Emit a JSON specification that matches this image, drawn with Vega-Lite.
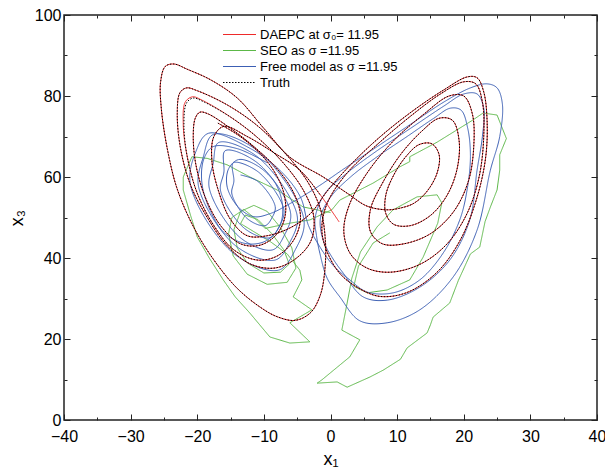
{
  "$schema": "https://vega.github.io/schema/vega-lite/v6.json",
  "width": 533,
  "height": 405,
  "autosize": {"type": "none"},
  "padding": {"left": 64, "top": 15, "right": 8, "bottom": 51},
  "background": "white",
  "config": {"view": {"stroke": "#222222", "strokeWidth": 1.5}},
  "datasets": {
    "pts": [
      {"s":"S","x":0,"y":51.2},{"s":"S","x":-4.1,"y":52.6},{"s":"S","x":-8,"y":56.8},{"s":"S","x":-12.1,"y":60},{"s":"S","x":-15.5,"y":63},{"s":"S","x":-18.5,"y":64.6},{"s":"S","x":-20.8,"y":65},{"s":"S","x":-22.1,"y":60},{"s":"S","x":-22.1,"y":56.8},{"s":"S","x":-21,"y":50.5},{"s":"S","x":-20,"y":45.2},{"s":"S","x":-18.2,"y":40},{"s":"S","x":-16.1,"y":34.6},{"s":"S","x":-14.3,"y":30.4},{"s":"S","x":-12.1,"y":26.4},{"s":"S","x":-9.1,"y":20.5},{"s":"S","x":-6.1,"y":19},{"s":"S","x":-3.1,"y":19.3},{"s":"S","x":-6.1,"y":24},{"s":"S","x":-2.8,"y":27.2},{"s":"S","x":-5.6,"y":30.4},{"s":"S","x":-4.3,"y":34.6},{"s":"S","x":-4.6,"y":37},
      {"s":"S","x":-6.5,"y":41},{"s":"S","x":-9,"y":44},{"s":"S","x":-11.5,"y":46.5},{"s":"S","x":-13.5,"y":48.5},{"s":"S","x":-12.8,"y":50.6},{"s":"S","x":-10.9,"y":49.5},{"s":"S","x":-8.8,"y":46},{"s":"S","x":-7,"y":42},{"s":"S","x":-6.2,"y":38.5},{"s":"S","x":-7.5,"y":36.5},{"s":"S","x":-10,"y":36.3},{"s":"S","x":-12.5,"y":38.8},{"s":"S","x":-14,"y":42.5},{"s":"S","x":-14.5,"y":47},{"s":"S","x":-13.5,"y":51.5},{"s":"S","x":-11.5,"y":53},{"s":"S","x":-9.5,"y":51.5},{"s":"S","x":-7.5,"y":47.5},{"s":"S","x":-5.8,"y":42.5},{"s":"S","x":-5.2,"y":37.5},{"s":"S","x":-6.5,"y":34},{"s":"S","x":-9.5,"y":33.5},{"s":"S","x":-12.5,"y":36},{"s":"S","x":-14.6,"y":40.5},{"s":"S","x":-15.3,"y":46},{"s":"S","x":-14.8,"y":50},{"s":"S","x":-13,"y":52},{"s":"S","x":-11.5,"y":50},{"s":"S","x":-9.8,"y":47.3},{"s":"S","x":-6.1,"y":48.6},{"s":"S","x":-3.1,"y":49.4},{"s":"S","x":0.2,"y":51.9},{"s":"S","x":1.4,"y":54.3},{"s":"S","x":6.4,"y":58.5},{"s":"S","x":10.4,"y":62.5},{"s":"S","x":11.9,"y":63.8},{"s":"S","x":11.9,"y":65},{"s":"S","x":16,"y":68.6},{"s":"S","x":21.4,"y":74.1},{"s":"S","x":22.9,"y":75.8},{"s":"S","x":25,"y":75.3},{"s":"S","x":26.4,"y":69.5},{"s":"S","x":25.4,"y":65.5},{"s":"S","x":25.4,"y":61.7},{"s":"S","x":25,"y":56.8},{"s":"S","x":24,"y":52.6},{"s":"S","x":23.2,"y":49},{"s":"S","x":22.4,"y":42.7},{"s":"S","x":21,"y":41},{"s":"S","x":19.9,"y":37},{"s":"S","x":19.2,"y":34.5},{"s":"S","x":17.9,"y":28.9},{"s":"S","x":15.4,"y":25.4},{"s":"S","x":15,"y":23.5},{"s":"S","x":14.5,"y":21.5},{"s":"S","x":11.5,"y":17.8},{"s":"S","x":10.5,"y":15},{"s":"S","x":7.9,"y":12.3},{"s":"S","x":5.9,"y":10.6},{"s":"S","x":2.5,"y":8.1},{"s":"S","x":1,"y":9.4},{"s":"S","x":-2,"y":9.1},{"s":"S","x":-1.3,"y":9.9},{"s":"S","x":2.9,"y":15.6},{"s":"S","x":4.4,"y":19.8},{"s":"S","x":1.7,"y":22.2},{"s":"S","x":2.5,"y":28.9},{"s":"S","x":3.2,"y":35},{"s":"S","x":4.5,"y":41.5},{"s":"S","x":7,"y":47.7},{"s":"S","x":9.4,"y":51.9},{"s":"S","x":13,"y":55.1},{"s":"S","x":16,"y":55.6},{"s":"S","x":16.7,"y":53.6},{"s":"S","x":16.1,"y":48.6},{"s":"S","x":13.9,"y":40.2},{"s":"S","x":11.9,"y":34.6},{"s":"S","x":8.5,"y":32.1},{"s":"S","x":5.5,"y":31.4},{"s":"S","x":3.5,"y":33},{"s":"S","x":4.2,"y":38},{"s":"S","x":6.4,"y":43.7},{"s":"S","x":8.9,"y":46.2},

      {"s":"F","x":-13.5,"y":60.5},{"s":"F","x":-10.9,"y":58.9},{"s":"F","x":-8.3,"y":52.7},{"s":"F","x":-8.8,"y":49.9},{"s":"F","x":-9.8,"y":48},{"s":"F","x":-12.4,"y":49.6},{"s":"F","x":-14.8,"y":55.8},{"s":"F","x":-14.5,"y":59},
      {"s":"F","x":-14.6,"y":63.5},{"s":"F","x":-10.8,"y":61.2},{"s":"F","x":-7,"y":51.9},{"s":"F","x":-7.7,"y":47.8},{"s":"F","x":-9.1,"y":45},{"s":"F","x":-12.9,"y":47.3},{"s":"F","x":-16.5,"y":56.6},{"s":"F","x":-16,"y":61.2},
      {"s":"F","x":-15.8,"y":66.5},{"s":"F","x":-10.9,"y":63.4},{"s":"F","x":-6,"y":51.2},{"s":"F","x":-6.9,"y":45.7},{"s":"F","x":-8.7,"y":42},{"s":"F","x":-13.6,"y":45.1},{"s":"F","x":-18.2,"y":57.3},{"s":"F","x":-17.6,"y":63.4},
      {"s":"F","x":-16.8,"y":68.5},{"s":"F","x":-10.9,"y":64.9},{"s":"F","x":-5,"y":50.4},{"s":"F","x":-6.1,"y":43.9},{"s":"F","x":-8.3,"y":39.5},{"s":"F","x":-14.3,"y":43.1},{"s":"F","x":-19.8,"y":57.6},{"s":"F","x":-19.1,"y":64.9},
      {"s":"F","x":-17.6,"y":70.5},{"s":"F","x":-10.8,"y":66.3},{"s":"F","x":-4,"y":49.6},{"s":"F","x":-5.3,"y":42},{"s":"F","x":-7.8,"y":37},{"s":"F","x":-14.6,"y":41.2},{"s":"F","x":-21,"y":57.9},{"s":"F","x":-20.2,"y":66.3},
      {"s":"F","x":-18.3,"y":70.8},{"s":"F","x":-12,"y":67},{"s":"F","x":-7.5,"y":61.5},{"s":"F","x":-4.5,"y":55},{"s":"F","x":-3.3,"y":48},
      {"s":"F","x":-1.5,"y":42.5},{"s":"F","x":0.5,"y":38},{"s":"F","x":2.9,"y":34.6},{"s":"F","x":5.5,"y":31.6},{"s":"F","x":9.4,"y":31.4},{"s":"F","x":13.4,"y":34.6},{"s":"F","x":16.9,"y":41.2},{"s":"F","x":19.4,"y":49.4},{"s":"F","x":20.5,"y":56.8},{"s":"F","x":21,"y":65},{"s":"F","x":20.6,"y":72},{"s":"F","x":19.6,"y":76.5},{"s":"F","x":18,"y":77},{"s":"F","x":15.5,"y":74.5},{"s":"F","x":11.5,"y":70},{"s":"F","x":7,"y":65},{"s":"F","x":3,"y":60},{"s":"F","x":0,"y":55},{"s":"F","x":-1.5,"y":50},{"s":"F","x":-1.1,"y":44.4},
      {"s":"F","x":0.3,"y":40},{"s":"F","x":1.9,"y":36.3},{"s":"F","x":4.9,"y":30.4},{"s":"F","x":8.5,"y":29.6},{"s":"F","x":13.4,"y":32.8},{"s":"F","x":17.9,"y":39.5},{"s":"F","x":20.9,"y":49.4},{"s":"F","x":22,"y":61.7},{"s":"F","x":22.8,"y":70},{"s":"F","x":23,"y":77},{"s":"F","x":22,"y":80.5},{"s":"F","x":20,"y":80.5},{"s":"F","x":17,"y":77.5},{"s":"F","x":12,"y":72},{"s":"F","x":7,"y":66.5},{"s":"F","x":2.5,"y":61},{"s":"F","x":-0.8,"y":56},{"s":"F","x":-2.3,"y":50},{"s":"F","x":-2.1,"y":45.5},
      {"s":"F","x":-1.6,"y":41.2},{"s":"F","x":-0.5,"y":35},{"s":"F","x":1.4,"y":30.4},{"s":"F","x":4.4,"y":24.5},{"s":"F","x":8.5,"y":24},{"s":"F","x":13.4,"y":27.2},{"s":"F","x":18.4,"y":35.3},{"s":"F","x":22,"y":46.9},{"s":"F","x":24,"y":61.7},{"s":"F","x":25.4,"y":70},{"s":"F","x":25.8,"y":78},{"s":"F","x":25,"y":82},{"s":"F","x":23.5,"y":83},{"s":"F","x":21,"y":82},{"s":"F","x":17,"y":78.5},{"s":"F","x":12,"y":73},{"s":"F","x":7,"y":67.5},{"s":"F","x":2,"y":62},{"s":"F","x":-2,"y":57.5},{"s":"F","x":-6,"y":53.5},{"s":"F","x":-9,"y":51},{"s":"F","x":-11.5,"y":50.2},
      {"s":"F","x":-13.8,"y":52.5},{"s":"F","x":-15.5,"y":57.5},{"s":"F","x":-15.3,"y":62},{"s":"F","x":-13.8,"y":64.3},{"s":"F","x":-11,"y":62.8},{"s":"F","x":-8.3,"y":58.5},{"s":"F","x":-7.2,"y":53},{"s":"F","x":-7.6,"y":48},{"s":"F","x":-9.6,"y":44.3},{"s":"F","x":-12.5,"y":43.5},{"s":"F","x":-15.8,"y":46},{"s":"F","x":-18,"y":51.5},{"s":"F","x":-19.3,"y":58.5},{"s":"F","x":-19,"y":64.5},{"s":"F","x":-17.6,"y":67.5},{"s":"F","x":-14,"y":67},{"s":"F","x":-9.5,"y":63.5},

      {"s":"D","x":-16.9,"y":73.3},{"s":"D","x":-14,"y":70.5},{"s":"D","x":-11,"y":66.5},{"s":"D","x":-8.5,"y":61.5},{"s":"D","x":-7,"y":56},{"s":"D","x":-6.8,"y":50.5},{"s":"D","x":-8,"y":46},{"s":"D","x":-10.5,"y":43.2},{"s":"D","x":-13.5,"y":43.5},{"s":"D","x":-16.5,"y":48},{"s":"D","x":-18.8,"y":55},{"s":"D","x":-20.2,"y":63},{"s":"D","x":-20.6,"y":70},{"s":"D","x":-20.3,"y":74.5},{"s":"D","x":-19.6,"y":76},{"s":"D","x":-18.4,"y":75.6},
      {"s":"D","x":-15,"y":72},{"s":"D","x":-11.5,"y":67.5},{"s":"D","x":-8,"y":62},{"s":"D","x":-5.5,"y":56},{"s":"D","x":-4.5,"y":50},{"s":"D","x":-5.5,"y":44.5},{"s":"D","x":-8,"y":40.5},{"s":"D","x":-11,"y":39.5},{"s":"D","x":-14.5,"y":42},{"s":"D","x":-17.5,"y":48},{"s":"D","x":-20,"y":56},{"s":"D","x":-21.5,"y":65},{"s":"D","x":-22.1,"y":73},{"s":"D","x":-21.8,"y":78.5},{"s":"D","x":-20.7,"y":79.8},{"s":"D","x":-19.2,"y":78.9},
      {"s":"D","x":-15,"y":74.8},{"s":"D","x":-11,"y":69.8},{"s":"D","x":-7,"y":63.3},{"s":"D","x":-4,"y":56.5},{"s":"D","x":-2.5,"y":50},{"s":"D","x":-3,"y":44},{"s":"D","x":-5.5,"y":39.5},{"s":"D","x":-8.5,"y":37.5},{"s":"D","x":-12,"y":38.5},{"s":"D","x":-15.5,"y":43},{"s":"D","x":-18.5,"y":50},{"s":"D","x":-21,"y":58},{"s":"D","x":-22.5,"y":67},{"s":"D","x":-23,"y":75.5},{"s":"D","x":-22.6,"y":80.8},{"s":"D","x":-21.6,"y":82},{"s":"D","x":-20,"y":81.3},
      {"s":"D","x":-15.5,"y":77.8},{"s":"D","x":-11,"y":72.7},{"s":"D","x":-7,"y":66.2},{"s":"D","x":-3.5,"y":59},{"s":"D","x":-1.5,"y":52},{"s":"D","x":-0.8,"y":45},{"s":"D","x":-0.8,"y":38},{"s":"D","x":-1.5,"y":31},{"s":"D","x":-3,"y":26.5},{"s":"D","x":-5.3,"y":24.6},{"s":"D","x":-8,"y":25.5},{"s":"D","x":-10.5,"y":27.8},{"s":"D","x":-14,"y":32.5},{"s":"D","x":-17.5,"y":39.5},{"s":"D","x":-20.5,"y":47.5},{"s":"D","x":-23,"y":57},{"s":"D","x":-24.5,"y":67},{"s":"D","x":-25.4,"y":77},{"s":"D","x":-25.5,"y":83.5},{"s":"D","x":-24.8,"y":87.3},{"s":"D","x":-23.5,"y":87.9},{"s":"D","x":-21.5,"y":86.6},
      {"s":"D","x":-18,"y":84},{"s":"D","x":-14,"y":79.5},{"s":"D","x":-10,"y":72},{"s":"D","x":-6.1,"y":64.9},{"s":"D","x":-1.1,"y":60},{"s":"D","x":2.5,"y":56},{"s":"D","x":5.5,"y":52.8},{"s":"D","x":8.5,"y":51.9},{"s":"D","x":10.4,"y":52.3},
      {"s":"D","x":12.5,"y":53.5},{"s":"D","x":14.5,"y":56.5},{"s":"D","x":16,"y":61},{"s":"D","x":16.3,"y":65.5},{"s":"D","x":15.2,"y":68.2},{"s":"D","x":13.3,"y":68},{"s":"D","x":11.3,"y":65},{"s":"D","x":9.5,"y":60.5},{"s":"D","x":8.3,"y":55.5},{"s":"D","x":8.3,"y":51},{"s":"D","x":9.5,"y":48.3},{"s":"D","x":12,"y":48},
      {"s":"D","x":15,"y":50.5},{"s":"D","x":17.5,"y":55.5},{"s":"D","x":19,"y":62},{"s":"D","x":19.3,"y":69},{"s":"D","x":18.3,"y":74},{"s":"D","x":16.3,"y":74.5},{"s":"D","x":13.5,"y":71},{"s":"D","x":10.5,"y":65.5},{"s":"D","x":7.8,"y":58.5},{"s":"D","x":6,"y":52},{"s":"D","x":6,"y":46.5},{"s":"D","x":7.8,"y":43.5},{"s":"D","x":11,"y":43.5},
      {"s":"D","x":15,"y":46},{"s":"D","x":18.5,"y":51.5},{"s":"D","x":20.7,"y":59},{"s":"D","x":21.5,"y":67.5},{"s":"D","x":21.3,"y":75.5},{"s":"D","x":20,"y":80},{"s":"D","x":17.8,"y":80},{"s":"D","x":14,"y":75.5},{"s":"D","x":9.5,"y":69},{"s":"D","x":5.5,"y":61},{"s":"D","x":2.8,"y":53},{"s":"D","x":2,"y":46.5},{"s":"D","x":3,"y":41},{"s":"D","x":5.5,"y":37.5},{"s":"D","x":9,"y":36.5},
      {"s":"D","x":13.5,"y":38.5},{"s":"D","x":17.5,"y":43.5},{"s":"D","x":20.5,"y":51},{"s":"D","x":22.3,"y":60},{"s":"D","x":23,"y":70},{"s":"D","x":22.8,"y":78.5},{"s":"D","x":21.8,"y":83},{"s":"D","x":20,"y":83.5},{"s":"D","x":16.5,"y":80.5},{"s":"D","x":12,"y":75},{"s":"D","x":7,"y":68},{"s":"D","x":2.5,"y":61},{"s":"D","x":-0.5,"y":53.5},{"s":"D","x":-1.3,"y":47},{"s":"D","x":-0.5,"y":41.5},{"s":"D","x":1.5,"y":36},{"s":"D","x":4.5,"y":32.3},{"s":"D","x":7.5,"y":30.5},
      {"s":"D","x":11.5,"y":31.5},{"s":"D","x":16,"y":36.5},{"s":"D","x":19.5,"y":44.5},{"s":"D","x":22,"y":55},{"s":"D","x":23.3,"y":65},{"s":"D","x":23.5,"y":74},{"s":"D","x":23,"y":81},{"s":"D","x":22,"y":84.5},{"s":"D","x":20.5,"y":84.7},{"s":"D","x":17,"y":81.5},{"s":"D","x":12.5,"y":76.5},{"s":"D","x":7.5,"y":70},{"s":"D","x":3,"y":63},{"s":"D","x":-0.5,"y":56.5},{"s":"D","x":-3,"y":51},{"s":"D","x":-6,"y":47.5},{"s":"D","x":-9.5,"y":45.5},
      {"s":"D","x":-12.5,"y":45.5},{"s":"D","x":-15,"y":49.5},{"s":"D","x":-16.8,"y":56.5},{"s":"D","x":-17.8,"y":64},{"s":"D","x":-17.5,"y":70},{"s":"D","x":-16,"y":72.5},{"s":"D","x":-12.5,"y":70},{"s":"D","x":-8.5,"y":66},{"s":"D","x":-4.6,"y":61.7},{"s":"D","x":-1.5,"y":55.5},{"s":"D","x":1.3,"y":48.9},

      {"s":"T","x":-16.9,"y":73.3},{"s":"T","x":-14,"y":70.5},{"s":"T","x":-11,"y":66.5},{"s":"T","x":-8.5,"y":61.5},{"s":"T","x":-7,"y":56},{"s":"T","x":-6.8,"y":50.5},{"s":"T","x":-8,"y":46},{"s":"T","x":-10.5,"y":43.2},{"s":"T","x":-13.5,"y":43.5},{"s":"T","x":-16.5,"y":48},{"s":"T","x":-18.8,"y":55},{"s":"T","x":-20.2,"y":63},{"s":"T","x":-20.6,"y":70},{"s":"T","x":-20.3,"y":74.5},{"s":"T","x":-19.6,"y":76},{"s":"T","x":-18.4,"y":75.6},
      {"s":"T","x":-15,"y":72},{"s":"T","x":-11.5,"y":67.5},{"s":"T","x":-8,"y":62},{"s":"T","x":-5.5,"y":56},{"s":"T","x":-4.5,"y":50},{"s":"T","x":-5.5,"y":44.5},{"s":"T","x":-8,"y":40.5},{"s":"T","x":-11,"y":39.5},{"s":"T","x":-14.5,"y":42},{"s":"T","x":-17.5,"y":48},{"s":"T","x":-20,"y":56},{"s":"T","x":-21.5,"y":65},{"s":"T","x":-22,"y":73},{"s":"T","x":-21.6,"y":78.3},{"s":"T","x":-20.6,"y":79.5},{"s":"T","x":-19.2,"y":78.7},
      {"s":"T","x":-15,"y":74.8},{"s":"T","x":-11,"y":69.8},{"s":"T","x":-7,"y":63.3},{"s":"T","x":-4,"y":56.5},{"s":"T","x":-2.5,"y":50},{"s":"T","x":-3,"y":44},{"s":"T","x":-5.5,"y":39.5},{"s":"T","x":-8.5,"y":37.5},{"s":"T","x":-12,"y":38.5},{"s":"T","x":-15.5,"y":43},{"s":"T","x":-18.5,"y":50},{"s":"T","x":-21,"y":58},{"s":"T","x":-22.5,"y":67},{"s":"T","x":-23,"y":75.5},{"s":"T","x":-22.6,"y":80.8},{"s":"T","x":-21.6,"y":82},{"s":"T","x":-20,"y":81.3},
      {"s":"T","x":-15.5,"y":77.8},{"s":"T","x":-11,"y":72.7},{"s":"T","x":-7,"y":66.2},{"s":"T","x":-3.5,"y":59},{"s":"T","x":-1.5,"y":52},{"s":"T","x":-0.8,"y":45},{"s":"T","x":-0.8,"y":38},{"s":"T","x":-1.5,"y":31},{"s":"T","x":-3,"y":26.5},{"s":"T","x":-5.3,"y":24.6},{"s":"T","x":-8,"y":25.5},{"s":"T","x":-10.5,"y":27.8},{"s":"T","x":-14,"y":32.5},{"s":"T","x":-17.5,"y":39.5},{"s":"T","x":-20.5,"y":47.5},{"s":"T","x":-23,"y":57},{"s":"T","x":-24.5,"y":67},{"s":"T","x":-25.4,"y":77},{"s":"T","x":-25.5,"y":83.5},{"s":"T","x":-24.8,"y":87.3},{"s":"T","x":-23.5,"y":87.9},{"s":"T","x":-21.5,"y":86.6},
      {"s":"T","x":-18,"y":84},{"s":"T","x":-14,"y":79.5},{"s":"T","x":-10,"y":72},{"s":"T","x":-6.1,"y":64.9},{"s":"T","x":-1.1,"y":60},{"s":"T","x":2.5,"y":56},{"s":"T","x":5.5,"y":52.8},{"s":"T","x":8.5,"y":51.9},{"s":"T","x":10.4,"y":52.3},
      {"s":"T","x":12.5,"y":53.5},{"s":"T","x":14.5,"y":56.5},{"s":"T","x":16,"y":61},{"s":"T","x":16.3,"y":65.5},{"s":"T","x":15.2,"y":68.2},{"s":"T","x":13.3,"y":68},{"s":"T","x":11.3,"y":65},{"s":"T","x":9.5,"y":60.5},{"s":"T","x":8.3,"y":55.5},{"s":"T","x":8.3,"y":51},{"s":"T","x":9.5,"y":48.3},{"s":"T","x":12,"y":48},
      {"s":"T","x":15,"y":50.5},{"s":"T","x":17.5,"y":55.5},{"s":"T","x":19,"y":62},{"s":"T","x":19.3,"y":69},{"s":"T","x":18.3,"y":74},{"s":"T","x":16.3,"y":74.5},{"s":"T","x":13.5,"y":71},{"s":"T","x":10.5,"y":65.5},{"s":"T","x":7.8,"y":58.5},{"s":"T","x":6,"y":52},{"s":"T","x":6,"y":46.5},{"s":"T","x":7.8,"y":43.5},{"s":"T","x":11,"y":43.5},
      {"s":"T","x":15,"y":46},{"s":"T","x":18.5,"y":51.5},{"s":"T","x":20.7,"y":59},{"s":"T","x":21.5,"y":67.5},{"s":"T","x":21.3,"y":75.5},{"s":"T","x":20,"y":80},{"s":"T","x":17.8,"y":80},{"s":"T","x":14,"y":75.5},{"s":"T","x":9.5,"y":69},{"s":"T","x":5.5,"y":61},{"s":"T","x":2.8,"y":53},{"s":"T","x":2,"y":46.5},{"s":"T","x":3,"y":41},{"s":"T","x":5.5,"y":37.5},{"s":"T","x":9,"y":36.5},
      {"s":"T","x":13.5,"y":38.5},{"s":"T","x":17.5,"y":43.5},{"s":"T","x":20.5,"y":51},{"s":"T","x":22.3,"y":60},{"s":"T","x":23,"y":70},{"s":"T","x":22.8,"y":78.5},{"s":"T","x":21.8,"y":83},{"s":"T","x":20,"y":83.5},{"s":"T","x":16.5,"y":80.5},{"s":"T","x":12,"y":75},{"s":"T","x":7,"y":68},{"s":"T","x":2.5,"y":61},{"s":"T","x":-0.5,"y":53.5},{"s":"T","x":-1.3,"y":47},{"s":"T","x":-0.5,"y":41.5},{"s":"T","x":1.5,"y":36},{"s":"T","x":4.5,"y":32.3},{"s":"T","x":7.5,"y":30.5},
      {"s":"T","x":11.5,"y":31.5},{"s":"T","x":16,"y":36.5},{"s":"T","x":19.5,"y":44.5},{"s":"T","x":22,"y":55},{"s":"T","x":23.3,"y":65},{"s":"T","x":23.5,"y":74},{"s":"T","x":23,"y":81},{"s":"T","x":22,"y":84.5},{"s":"T","x":20.5,"y":84.7},{"s":"T","x":17,"y":81.5},{"s":"T","x":12.5,"y":76.5},{"s":"T","x":7.5,"y":70},{"s":"T","x":3,"y":63},{"s":"T","x":-0.5,"y":56.5},{"s":"T","x":-3,"y":51},{"s":"T","x":-6,"y":47.5},{"s":"T","x":-9.5,"y":45.5},
      {"s":"T","x":-12.5,"y":45.5},{"s":"T","x":-15,"y":49.5},{"s":"T","x":-16.8,"y":56.5},{"s":"T","x":-17.8,"y":64},{"s":"T","x":-17.5,"y":70},{"s":"T","x":-16,"y":72.5},{"s":"T","x":-12.5,"y":70},{"s":"T","x":-8.5,"y":66},{"s":"T","x":-4.6,"y":61.7},{"s":"T","x":-1.5,"y":55.5}
    ]
  },
  "data": {"name": "pts"},
  "layer": [
    {
      "transform": [{"filter": "datum.s === 'S'"}],
      "mark": {"type": "line", "strokeWidth": 1, "interpolate": "linear"},
      "encoding": {
        "x": {"field": "x", "type": "quantitative", "scale": {"domain": [-40, 40], "nice": false, "zero": false},
          "axis": {"orient": "bottom", "values": [-40,-30,-20,-10,0,10,20,30,40], "tickSize": -6, "tickColor": "#222222", "labelPadding": 14, "labelFontSize": 16, "labelFont": "Liberation Sans", "labelColor": "black", "labelFlush": false, "domain": false, "grid": false, "title": "x₁", "titleFont": "Liberation Sans", "titleFontSize": 18, "titleFontWeight": "normal", "titleColor": "black", "titlePadding": 6}},
        "y": {"field": "y", "type": "quantitative", "scale": {"domain": [0, 100], "nice": false, "zero": false},
          "axis": {"orient": "left", "values": [0,20,40,60,80,100], "tickSize": -6, "tickColor": "#222222", "labelPadding": 9, "labelFontSize": 16, "labelFont": "Liberation Sans", "labelColor": "black", "labelFlush": false, "domain": false, "grid": false, "title": "x₃", "titleFont": "Liberation Sans", "titleFontSize": 18, "titleFontWeight": "normal", "titleColor": "black", "titlePadding": 8}},
        "color": {"field": "s", "type": "nominal", "scale": {"domain": ["D","S","F","T"], "range": ["#ee2a2a","#5cb848","#3c5fb4","#000000"]},
          "legend": {"title": null, "orient": "none", "legendX": 169, "legendY": 13, "symbolType": "M-3.3,0H3.3", "symbolSize": 100, "symbolStrokeWidth": 1, "labelFontSize": 13, "labelFont": "Liberation Sans", "labelColor": "black", "labelLimit": 300, "labelOffset": 14, "rowPadding": 2, "padding": 0,
            "labelExpr": "datum.label == 'D' ? 'DAEPC at σ₀= 11.95' : datum.label == 'S' ? 'SEO as σ =11.95' : datum.label == 'F' ? 'Free model as σ =11.95' : 'Truth'",
            "encode": {"symbols": {"update": {"stroke": {"scale": "color", "field": "value"}, "fill": {"value": "transparent"}}}}}},
        "strokeDash": {"field": "s", "type": "nominal", "scale": {"domain": ["D","S","F","T"], "range": [[1,0],[1,0],[1,0],[1.5,1.5]]},
          "legend": {"title": null, "orient": "none", "legendX": 169, "legendY": 13, "symbolType": "M-3.3,0H3.3", "symbolSize": 100, "symbolStrokeWidth": 1, "labelFontSize": 13, "labelFont": "Liberation Sans", "labelColor": "black", "labelLimit": 300, "labelOffset": 14, "rowPadding": 2, "padding": 0,
            "labelExpr": "datum.label == 'D' ? 'DAEPC at σ₀= 11.95' : datum.label == 'S' ? 'SEO as σ =11.95' : datum.label == 'F' ? 'Free model as σ =11.95' : 'Truth'",
            "encode": {"symbols": {"update": {"stroke": {"scale": "color", "field": "value"}, "fill": {"value": "transparent"}}}}}},
        "order": {"value": null}
      }
    },
    {
      "transform": [{"filter": "datum.s === 'F'"}],
      "mark": {"type": "line", "strokeWidth": 1, "interpolate": "catmull-rom"},
      "encoding": {
        "x": {"field": "x", "type": "quantitative", "axis": {"orient": "bottom", "values": [-35,-25,-15,-5,5,15,25,35], "tickSize": -3, "tickColor": "#222222", "labels": false, "domain": false, "grid": false, "title": null}},
        "y": {"field": "y", "type": "quantitative", "axis": {"orient": "left", "values": [10,30,50,70,90], "tickSize": -3, "tickColor": "#222222", "labels": false, "domain": false, "grid": false, "title": null}},
        "color": {"field": "s", "type": "nominal"},
        "strokeDash": {"field": "s", "type": "nominal"},
        "order": {"value": null}
      }
    },
    {
      "transform": [{"filter": "datum.s === 'D'"}],
      "mark": {"type": "line", "strokeWidth": 1, "interpolate": "catmull-rom"},
      "encoding": {
        "x": {"field": "x", "type": "quantitative", "axis": {"orient": "top", "values": [-40,-30,-20,-10,0,10,20,30,40], "tickSize": -6, "tickColor": "#222222", "labels": false, "domain": false, "grid": false, "title": null}},
        "y": {"field": "y", "type": "quantitative", "axis": {"orient": "right", "values": [0,20,40,60,80,100], "tickSize": -6, "tickColor": "#222222", "labels": false, "domain": false, "grid": false, "title": null}},
        "color": {"field": "s", "type": "nominal"},
        "strokeDash": {"field": "s", "type": "nominal"},
        "order": {"value": null}
      }
    },
    {
      "transform": [{"filter": "datum.s === 'T'"}],
      "mark": {"type": "line", "strokeWidth": 1, "interpolate": "catmull-rom"},
      "encoding": {
        "x": {"field": "x", "type": "quantitative", "axis": {"orient": "top", "values": [-35,-25,-15,-5,5,15,25,35], "tickSize": -3, "tickColor": "#222222", "labels": false, "domain": false, "grid": false, "title": null}},
        "y": {"field": "y", "type": "quantitative", "axis": {"orient": "right", "values": [10,30,50,70,90], "tickSize": -3, "tickColor": "#222222", "labels": false, "domain": false, "grid": false, "title": null}},
        "color": {"field": "s", "type": "nominal"},
        "strokeDash": {"field": "s", "type": "nominal"},
        "order": {"value": null}
      }
    }
  ],
  "resolve": {"axis": {"x": "independent", "y": "independent"}}
}
